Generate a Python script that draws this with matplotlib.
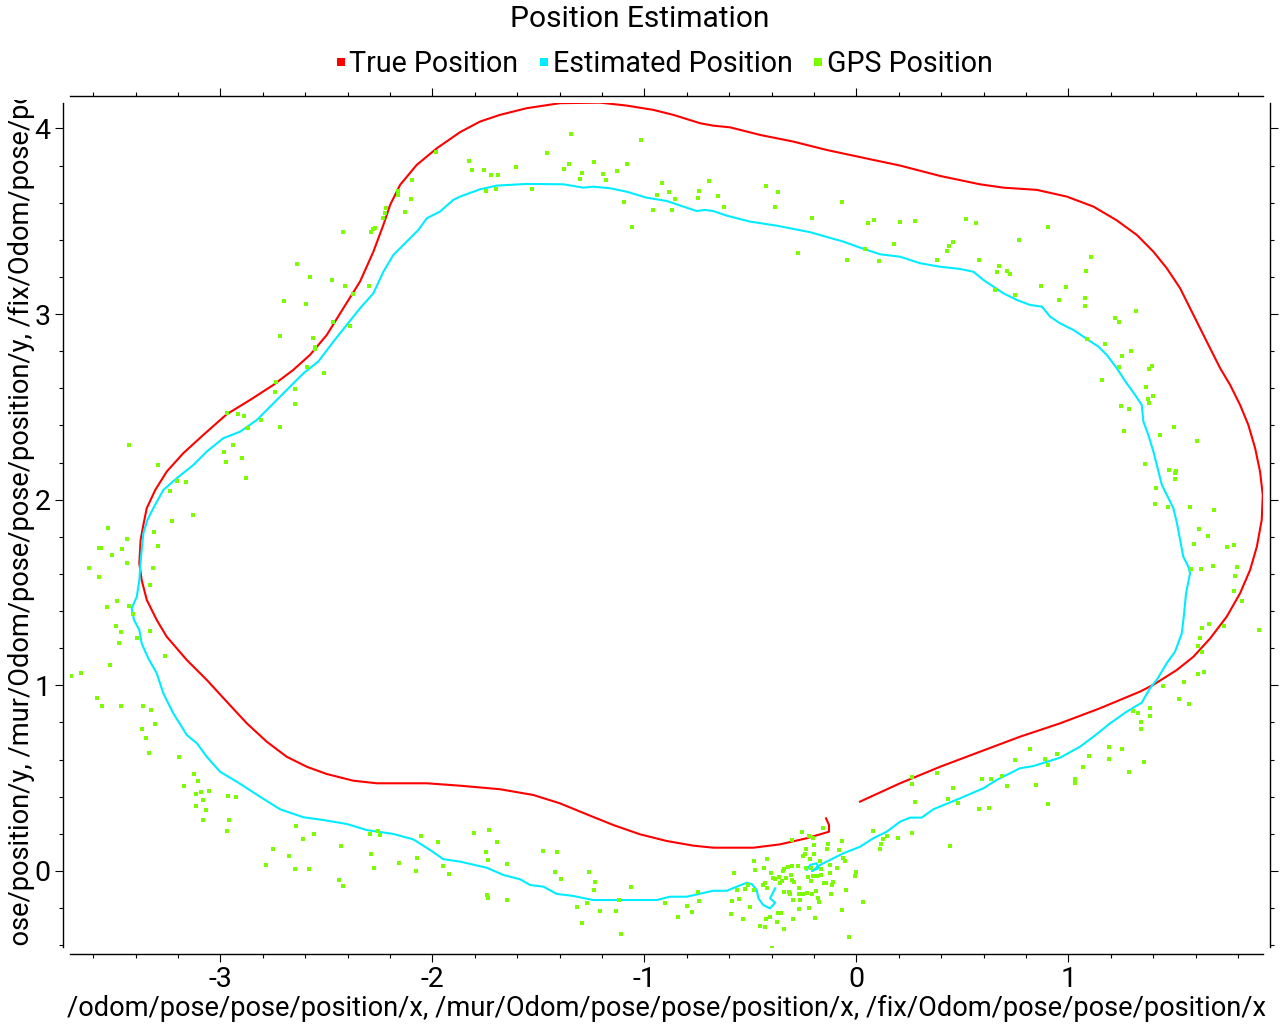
import matplotlib
matplotlib.use("Agg")
import matplotlib.pyplot as plt
from matplotlib.lines import Line2D
from matplotlib.ticker import MultipleLocator
from matplotlib.transforms import Bbox, TransformedBbox

# ---------------- data ----------------
true_x = [0.017, 0.206, 0.395, 0.583, 0.772, 0.961, 1.149, 1.338, 1.400, 1.511, 1.590, 1.669, 1.747,
          1.810, 1.857, 1.889, 1.912, 1.917, 1.904, 1.881, 1.849, 1.810, 1.763, 1.716, 1.653, 1.590,
          1.527, 1.464, 1.401, 1.323, 1.228, 1.118, 0.992, 0.851, 0.693, 0.583, 0.395, 0.206, 0.065,
          -0.140, -0.297, -0.454, -0.596, -0.675, -0.737, -0.863, -0.958, -1.083, -1.209, -1.398,
          -1.555, -1.681, -1.775, -1.869, -1.979, -2.074, -2.152, -2.199, -2.231, -2.278, -2.341,
          -2.420, -2.498, -2.577, -2.656, -2.750, -2.860, -2.970, -3.080, -3.175, -3.253, -3.307,
          -3.347, -3.363, -3.376, -3.382, -3.371, -3.347, -3.300, -3.253, -3.158, -3.064, -2.970,
          -2.875, -2.781, -2.687, -2.592, -2.498, -2.373, -2.262, -2.026, -1.869, -1.681, -1.524,
          -1.398, -1.272, -1.146, -1.020, -0.894, -0.769, -0.675, -0.486, -0.360, -0.234, -0.129,
          -0.129, -0.143]
true_y = [0.373, 0.472, 0.561, 0.642, 0.723, 0.795, 0.876, 0.966, 1.002, 1.082, 1.154, 1.253, 1.370,
          1.496, 1.621, 1.747, 1.891, 2.025, 2.151, 2.277, 2.402, 2.510, 2.618, 2.708, 2.851, 2.995,
          3.139, 3.247, 3.336, 3.426, 3.505, 3.579, 3.633, 3.669, 3.681, 3.699, 3.744, 3.800, 3.834,
          3.884, 3.929, 3.965, 4.006, 4.015, 4.028, 4.073, 4.100, 4.123, 4.139, 4.136,
          4.109, 4.073, 4.037, 3.980, 3.893, 3.803, 3.696, 3.588, 3.480, 3.336, 3.175,
          3.031, 2.887, 2.780, 2.699, 2.618, 2.537, 2.460, 2.349, 2.250, 2.151, 2.052,
          1.954, 1.864, 1.783, 1.657, 1.567, 1.460, 1.352, 1.262, 1.136, 1.029, 0.912,
          0.795, 0.696, 0.615, 0.561, 0.522, 0.486, 0.472, 0.472, 0.459, 0.440, 0.409,
          0.364, 0.305, 0.247, 0.197, 0.161, 0.136, 0.125, 0.125, 0.143, 0.176, 0.211,
          0.247, 0.283]

est_x = [-0.234, -0.218, -0.187, -0.179, -0.209, -0.171, -0.140, -0.061, 0.017, 0.080, 0.143, 0.206,
         0.253, 0.308, 0.363, 0.489, 0.599, 0.662, 0.772, 0.835, 0.961, 1.055, 1.118, 1.197, 1.275,
         1.346, 1.385, 1.417, 1.464, 1.503, 1.535, 1.546, 1.555, 1.566, 1.574, 1.566, 1.542, 1.527,
         1.511, 1.495, 1.472, 1.441, 1.425, 1.401, 1.377, 1.354, 1.346, 1.315, 1.275, 1.228, 1.181,
         1.142, 1.087, 1.024, 0.961, 0.914, 0.875, 0.819, 0.757, 0.693, 0.646, 0.599, 0.552, 0.489,
         0.395, 0.300, 0.206, 0.112, 0.017, -0.061, -0.218, -0.375, -0.501, -0.611, -0.675, -0.714,
         -0.753, -0.800, -0.894, -0.989, -1.083, -1.162, -1.241, -1.288, -1.382, -1.555, -1.696,
         -1.775, -1.869, -1.901, -1.964, -2.026, -2.066, -2.121, -2.184, -2.231, -2.278, -2.341,
         -2.404, -2.467, -2.538, -2.608, -2.671, -2.750, -2.828, -2.907, -2.986, -3.064, -3.127,
         -3.206, -3.269, -3.316, -3.344, -3.363, -3.374, -3.382, -3.394, -3.418, -3.407, -3.382,
         -3.371, -3.340, -3.300, -3.269, -3.222, -3.158, -3.111, -3.064, -3.001, -2.923, -2.813,
         -2.718, -2.608, -2.514, -2.404, -2.309, -2.184, -2.090, -2.011, -1.948, -1.869, -1.743,
         -1.665, -1.586, -1.539, -1.476, -1.413, -1.335, -1.241, -1.115, -0.942, -0.879, -0.800,
         -0.675, -0.611, -0.564, -0.517, -0.493, -0.470, -0.462, -0.439, -0.407, -0.383, -0.407,
         -0.383]
est_y = [0.005, 0.032, 0.041, 0.014, -0.001, 0.032, 0.050, 0.095, 0.130, 0.176, 0.211, 0.265,
         0.287, 0.287, 0.332, 0.391, 0.445, 0.490, 0.553, 0.565, 0.610, 0.669, 0.723, 0.795, 0.858,
         0.906, 0.984, 1.029, 1.119, 1.181, 1.280, 1.388, 1.496, 1.558, 1.603, 1.639, 1.693, 1.783,
         1.880, 1.954, 2.008, 2.079, 2.151, 2.259, 2.349, 2.420, 2.510, 2.564, 2.627, 2.708, 2.780,
         2.824, 2.866, 2.914, 2.950, 2.986, 3.040, 3.049, 3.076, 3.112, 3.148, 3.184, 3.228, 3.243,
         3.255, 3.274, 3.309, 3.322, 3.358, 3.390, 3.441, 3.476, 3.498, 3.530, 3.555, 3.561,
         3.555, 3.573, 3.609, 3.627, 3.659, 3.678, 3.686, 3.681, 3.699, 3.701, 3.692,
         3.672, 3.633, 3.615, 3.552, 3.516, 3.453, 3.390, 3.318, 3.228, 3.112, 3.031,
         2.941, 2.851, 2.744, 2.681, 2.609, 2.519, 2.429, 2.366, 2.331, 2.259, 2.187,
         2.115, 2.052, 1.954, 1.891, 1.819, 1.693, 1.567, 1.477, 1.415, 1.352, 1.298,
         1.226, 1.145, 1.065, 0.957, 0.849, 0.732, 0.688, 0.615, 0.534, 0.481, 0.400,
         0.332, 0.289, 0.274, 0.253, 0.220, 0.199, 0.170, 0.113, 0.063, 0.050, 0.017,
         -0.022, -0.045, -0.076, -0.085, -0.124, -0.135, -0.157, -0.157, -0.157, -0.139, -0.139,
         -0.107, -0.107, -0.085, -0.064, -0.071, -0.103, -0.148, -0.184, -0.202, -0.171, -0.148,
         -0.094]

gps_x = [-1.983, -1.828, -2.094, -2.160, -2.160, -2.099, -2.127, -2.217, -2.222, -2.231, -2.269, -2.278,
         -2.288, -2.420, -2.637, -2.575, -2.472, -2.410, -2.297, -2.373, -2.698, -2.594, -2.470, -2.387,
         -2.717, -2.561, -2.552, -2.552, -2.590, -2.509, -2.736, -2.741, -2.646, -2.646, -2.967, -2.915,
         -2.887, -2.807, -2.868, -2.717, -3.429, -2.939, -2.981, -2.972, -2.896, -3.292, -2.877, -3.203,
         -3.160, -3.236, -3.127, -3.226,
         -3.528, -3.439, -3.314, -3.572, -3.563, -3.462, -3.292, -3.509, -3.439, -3.618, -3.316, -3.571,
         -3.330, -3.486, -3.533, -3.429, -3.410, -3.491, -3.467, -3.330, -3.392, -3.476, -3.259, -3.519,
         -3.706, -3.656, -3.580, -3.557, -3.467, -3.363, -3.325, -3.307, -3.368, -3.349, -3.335, -3.193,
         -3.123, -3.104, -3.170, -3.113, -3.090, -3.052, -3.080, -3.113, -3.066, -3.080, -2.962, -2.925,
         -2.958, -2.967, -2.642, -2.557, -2.608, -2.750, -2.675, -2.783, -2.646, -2.580, -2.429, -2.439,
         -2.420, -2.292, -2.255, -2.245, -2.288, -2.274, -2.156, -2.052, -2.071, -2.075, -1.972, -1.948,
         -1.920,
         -1.811, -1.755, -1.722, -1.689, -1.745, -1.698, -1.604, -1.528, -1.458, -1.377, -1.354, -1.344,
         -1.302, -1.292, -1.236, -1.193, -1.179, -1.127, -1.080, -1.094, -1.014, -1.057, -0.915, -0.939,
         -0.882, -0.854, -0.958, -0.868, -0.741, -0.745, -0.693, -0.651, -0.623, -0.425, -0.368, -0.382,
         -0.208, -0.274, -0.066, -0.042, 0.057, 0.042,
         0.085, 0.208, 0.278, 0.519, 0.566, 0.906, 0.179, 0.108, 0.439, 0.458, 0.429, 0.382, 0.580,
         0.769, 0.665, 0.675, 0.712, 0.726, 0.656, 0.750, 0.873, 0.991, 0.958, 1.080, 1.080, 1.085,
         1.108, 1.321, 1.222, 1.241, 1.090, 1.175, 1.297, 1.255, 1.241, 1.382, 1.396, 1.160, 1.368,
         1.377, 1.401, 1.382, 1.250, 1.288, 1.264, 1.500, 1.434, 1.608, 1.363, 1.476, 1.509, 1.505,
         1.505, 1.415, 1.410, 1.472, 1.575, 1.689,
         1.618, 1.660, 1.594, 1.750, 1.783, 1.580, 1.627, 1.684, 1.797, 1.788, 1.783, 1.821, 1.632,
         1.665, 1.736, 1.901, 1.623, 1.613, 1.632, 1.613, 1.642, 1.448, 1.547, 1.524, 1.571, 1.307,
         1.330, 1.387, 1.387, 1.344, 1.344, 1.358, 1.193, 1.255, 1.193, 1.288, 1.099, 1.071, 0.948,
         0.892, 0.906, 0.821, 0.750, 0.849, 0.906, 0.712, 0.689, 0.637, 0.594, 0.627, 0.580, 1.033,
         1.033, 0.382, 0.264, 0.264, 0.458, 0.434, 0.481, 0.278, 0.080, 0.146, 0.127, 0.118, 0.113,
         0.198, 0.264, 0.443, 0.033,
         -1.802, -1.731, -1.693, -1.745, -1.736, -1.646, -1.740, -1.736, -1.646, -1.476, -1.410, -1.420,
         -1.391, -1.259, -1.231, -1.236, -1.316, -1.269, -1.292, -1.207, -1.132, -1.118, -1.109, -1.061,
         -0.901, -0.839, -0.797, -0.774, -0.745, -0.740, -0.589, -0.585, -0.575, -0.561, -0.552, -0.533,
         -0.524, -0.509, -0.500, -0.481, -0.476, -0.481, -0.453, -0.439, -0.434, -0.429, -0.420, -0.424,
         -0.429, -0.420, -0.401, -0.406, -0.396, -0.391, -0.382, -0.373, -0.368, -0.363, -0.358, -0.354,
         -0.349, -0.344, -0.340, -0.340, -0.340, -0.330, -0.321, -0.316, -0.311, -0.306, -0.302, -0.302,
         -0.302, -0.297, -0.297, -0.292, -0.273, -0.269, -0.269, -0.269, -0.264, -0.255, -0.250, -0.250,
         -0.240, -0.236, -0.236, -0.231, -0.226, -0.222, -0.222, -0.217, -0.212, -0.212, -0.207, -0.203,
         -0.203, -0.198, -0.198, -0.193, -0.189, -0.184, -0.179, -0.174, -0.170, -0.165, -0.165, -0.156,
         -0.151, -0.141, -0.137, -0.132, -0.122, -0.122, -0.118, -0.113, -0.108, -0.090, -0.080, -0.066,
         -0.066, -0.061, -0.052, -0.047, -0.033, -0.005, 0.000]
gps_y = [3.872, 3.823, 3.721, 3.662, 3.640, 3.619, 3.552, 3.570, 3.543, 3.516, 3.466, 3.460,
         3.441, 3.441, 3.268, 3.198, 3.182, 3.150, 3.150, 3.107, 3.069, 3.053, 2.956, 2.934,
         2.880, 2.870, 2.824, 2.810, 2.717, 2.681, 2.633, 2.579, 2.595, 2.514, 2.466, 2.460,
         2.449, 2.428, 2.385, 2.390, 2.293, 2.293, 2.255, 2.202, 2.223, 2.185, 2.115, 2.102,
         2.094, 2.047, 1.916, 1.884,
         1.846, 1.787, 1.824, 1.738, 1.738, 1.733, 1.749, 1.700, 1.657, 1.630, 1.630, 1.582,
         1.539, 1.453, 1.420, 1.426, 1.383, 1.318, 1.286, 1.291, 1.253, 1.226, 1.156, 1.108,
         1.048, 1.065, 0.930, 0.887, 0.887, 0.887, 0.865, 0.790, 0.763, 0.714, 0.634, 0.612,
         0.520, 0.483, 0.456, 0.413, 0.423, 0.429, 0.380, 0.348, 0.327, 0.273, 0.402, 0.397,
         0.273, 0.213, 0.240, 0.197, 0.170, 0.116, 0.079, 0.030, 0.009, 0.009, 0.133, -0.051,
         -0.083, 0.197, 0.213, 0.192, 0.089, 0.014, 0.041, 0.186, 0.068, -0.002, 0.154, 0.025,
         -0.018,
         3.775, 3.775, 3.748, 3.748, 3.662, 3.672, 3.791, 3.672, 3.866, 3.780, 3.807, 3.969,
         3.726, 3.759, 3.818, 3.753, 3.721, 3.769, 3.807, 3.602, 3.936, 3.468, 3.705, 3.640,
         3.656, 3.619, 3.559, 3.559, 3.662, 3.624, 3.716, 3.635, 3.575, 3.689, 3.656, 3.577,
         3.516, 3.328, 3.602, 3.290, 3.489, 3.349,
         3.505, 3.495, 3.500, 3.511, 3.489, 3.468, 3.376, 3.284, 3.365, 3.387, 3.338, 3.290, 3.290,
         3.398, 3.225, 3.258, 3.231, 3.214, 3.128, 3.101, 3.150, 3.144, 3.074, 3.085, 3.042, 3.231,
         3.306, 3.015, 2.977, 2.956, 2.864, 2.837, 2.800, 2.773, 2.713, 2.703, 2.719, 2.643, 2.606,
         2.541, 2.557, 2.519, 2.503, 2.487, 2.369, 2.390, 2.347, 2.315, 2.191, 2.158, 2.153, 2.142,
         2.110, 2.061, 1.975, 1.959, 1.959, 1.943,
         1.841, 1.803, 1.760, 1.744, 1.754, 1.625, 1.625, 1.641, 1.636, 1.587, 1.506, 1.453, 1.307,
         1.329, 1.318, 1.296, 1.253, 1.210, 1.178, 1.059, 1.070, 0.995, 1.016, 0.925, 0.898, 0.860,
         0.849, 0.876, 0.833, 0.801, 0.763, 0.585, 0.666, 0.655, 0.601, 0.531, 0.617, 0.558, 0.628,
         0.601, 0.569, 0.655, 0.596, 0.461, 0.359, 0.456, 0.510, 0.494, 0.494, 0.337, 0.332, 0.494,
         0.472, 0.526, 0.504, 0.467, 0.445, 0.386, 0.364, 0.370, 0.213, 0.186, 0.170, 0.143, 0.116,
         0.176, 0.203, 0.133, -0.169,
         0.202, 0.219, 0.154, 0.100, 0.057, 0.035, -0.132, -0.148, -0.159, 0.105, 0.100, -0.008,
         -0.045, -0.008, -0.062, -0.105, -0.196, -0.175, -0.283, -0.218, -0.218, -0.159, -0.342, -0.089,
         -0.175, -0.250, -0.191, -0.223, -0.116, -0.164, -0.234, -0.164, -0.013, -0.105, -0.153, -0.261,
         -0.099, -0.078, -0.196, 0.052, 0.003, -0.105, -0.299, -0.078, 0.014, -0.067, 0.062, -0.261,
         -0.304, -0.094, -0.013, -0.250, -0.417, -0.040, -0.046, -0.277, -0.229, -0.035, -0.067, -0.229,
         -0.056, -0.002, 0.008, -0.116, -0.315, -0.040, 0.019, -0.116, -0.126, -0.024, 0.025, 0.165,
         -0.051, -0.159, -0.261, -0.062, 0.025, -0.094, -0.126, -0.207, -0.159, 0.208, 0.078, -0.126,
         0.089, 0.116, 0.014, -0.121, -0.035, 0.186, -0.202, 0.062, 0.014, -0.056, -0.126, 0.175,
         -0.029, 0.138, 0.089, -0.256, -0.110, -0.029, -0.148, -0.169, 0.052, 0.008, -0.024, 0.229,
         -0.067, -0.067, 0.116, 0.143, 0.030, -0.013, -0.126, -0.078, -0.062, 0.014, 0.111, 0.159,
         -0.213, 0.068, 0.052, -0.105, -0.358, -0.029, -0.008]

series_labels = ["True Position", "Estimated Position", "GPS Position"]
series_colors = ["#ff0000", "#00ecff", "#7cfc00"]
title_text = "Position Estimation"
xlabel_text = "/odom/pose/pose/position/x, /mur/Odom/pose/pose/position/x, /fix/Odom/pose/pose/position/x"
ylabel_text = "/odom/pose/pose/position/y, /mur/Odom/pose/pose/position/y, /fix/Odom/pose/pose/position/y"

# ---------------- figure ----------------
FONT = ["Roboto", "DejaVu Sans"]
FS = 19.6
plt.rcParams["font.family"] = FONT

W, H = 1280, 1024
fig = plt.figure(figsize=(W / 100, H / 100), dpi=100)
ax = fig.add_axes([70 / W, 1 - 947 / H, (1263 - 70) / W, (947 - 103) / H])

ax.plot(true_x, true_y, color=series_colors[0], lw=1.5, zorder=2)
ax.plot(est_x, est_y, color=series_colors[1], lw=1.5, zorder=3)
ax.plot(gps_x, gps_y, ls="none", marker="s", ms=2.4, mew=0, color=series_colors[2], zorder=4)

ax.set_xlim(-3.709, 1.918)
ax.set_ylim(-0.410, 4.137)

for side in ["left", "right", "top", "bottom"]:
    ax.spines[side].set_position(("outward", 5))
    ax.spines[side].set_linewidth(1.0)
    ax.spines[side].set_color("black")

ax.xaxis.set_major_locator(MultipleLocator(1))
ax.xaxis.set_minor_locator(MultipleLocator(0.2))
ax.yaxis.set_major_locator(MultipleLocator(1))
ax.yaxis.set_minor_locator(MultipleLocator(0.2))
ax.tick_params(which="both", direction="out", top=True, right=True,
               labeltop=False, labelright=False, width=0.8, color="black")
ax.tick_params(which="major", length=6, labelsize=20.5, pad=3)
ax.tick_params(which="minor", length=3)
ax.xaxis.set_major_formatter(plt.FuncFormatter(lambda v, p: f"{v:.0f}".replace("\u2212", "-")))
ax.yaxis.set_major_formatter(plt.FuncFormatter(lambda v, p: f"{v:.0f}".replace("\u2212", "-")))

ax.set_xlabel(xlabel_text, fontsize=FS, labelpad=1)

# y-label, clipped to the height of the plot canvas as in the reference
ylab = fig.text(21 / W, 1 - 525 / H, ylabel_text, rotation=90, ha="center", va="center",
                fontsize=FS)
clip = TransformedBbox(Bbox.from_extents(0, 1 - 947 / H, 70 / W, 1 - 100 / H), fig.transFigure)
ylab.set_clip_box(clip)
ylab.set_clip_on(True)

fig.text(640 / W, 1 - 19 / H, title_text, ha="center", va="center", fontsize=21.5)

handles = [Line2D([], [], ls="none", marker="s", ms=5.5, mew=0, color=c) for c in series_colors]
fig.legend(handles, series_labels, loc="center", bbox_to_anchor=(664.5 / W, 1 - 64 / H),
           ncol=3, frameon=False, fontsize=20.6, handlelength=0.3, handletextpad=0.15,
           columnspacing=0.75, borderpad=0, borderaxespad=0)

fig.savefig("out.png", dpi=100)
